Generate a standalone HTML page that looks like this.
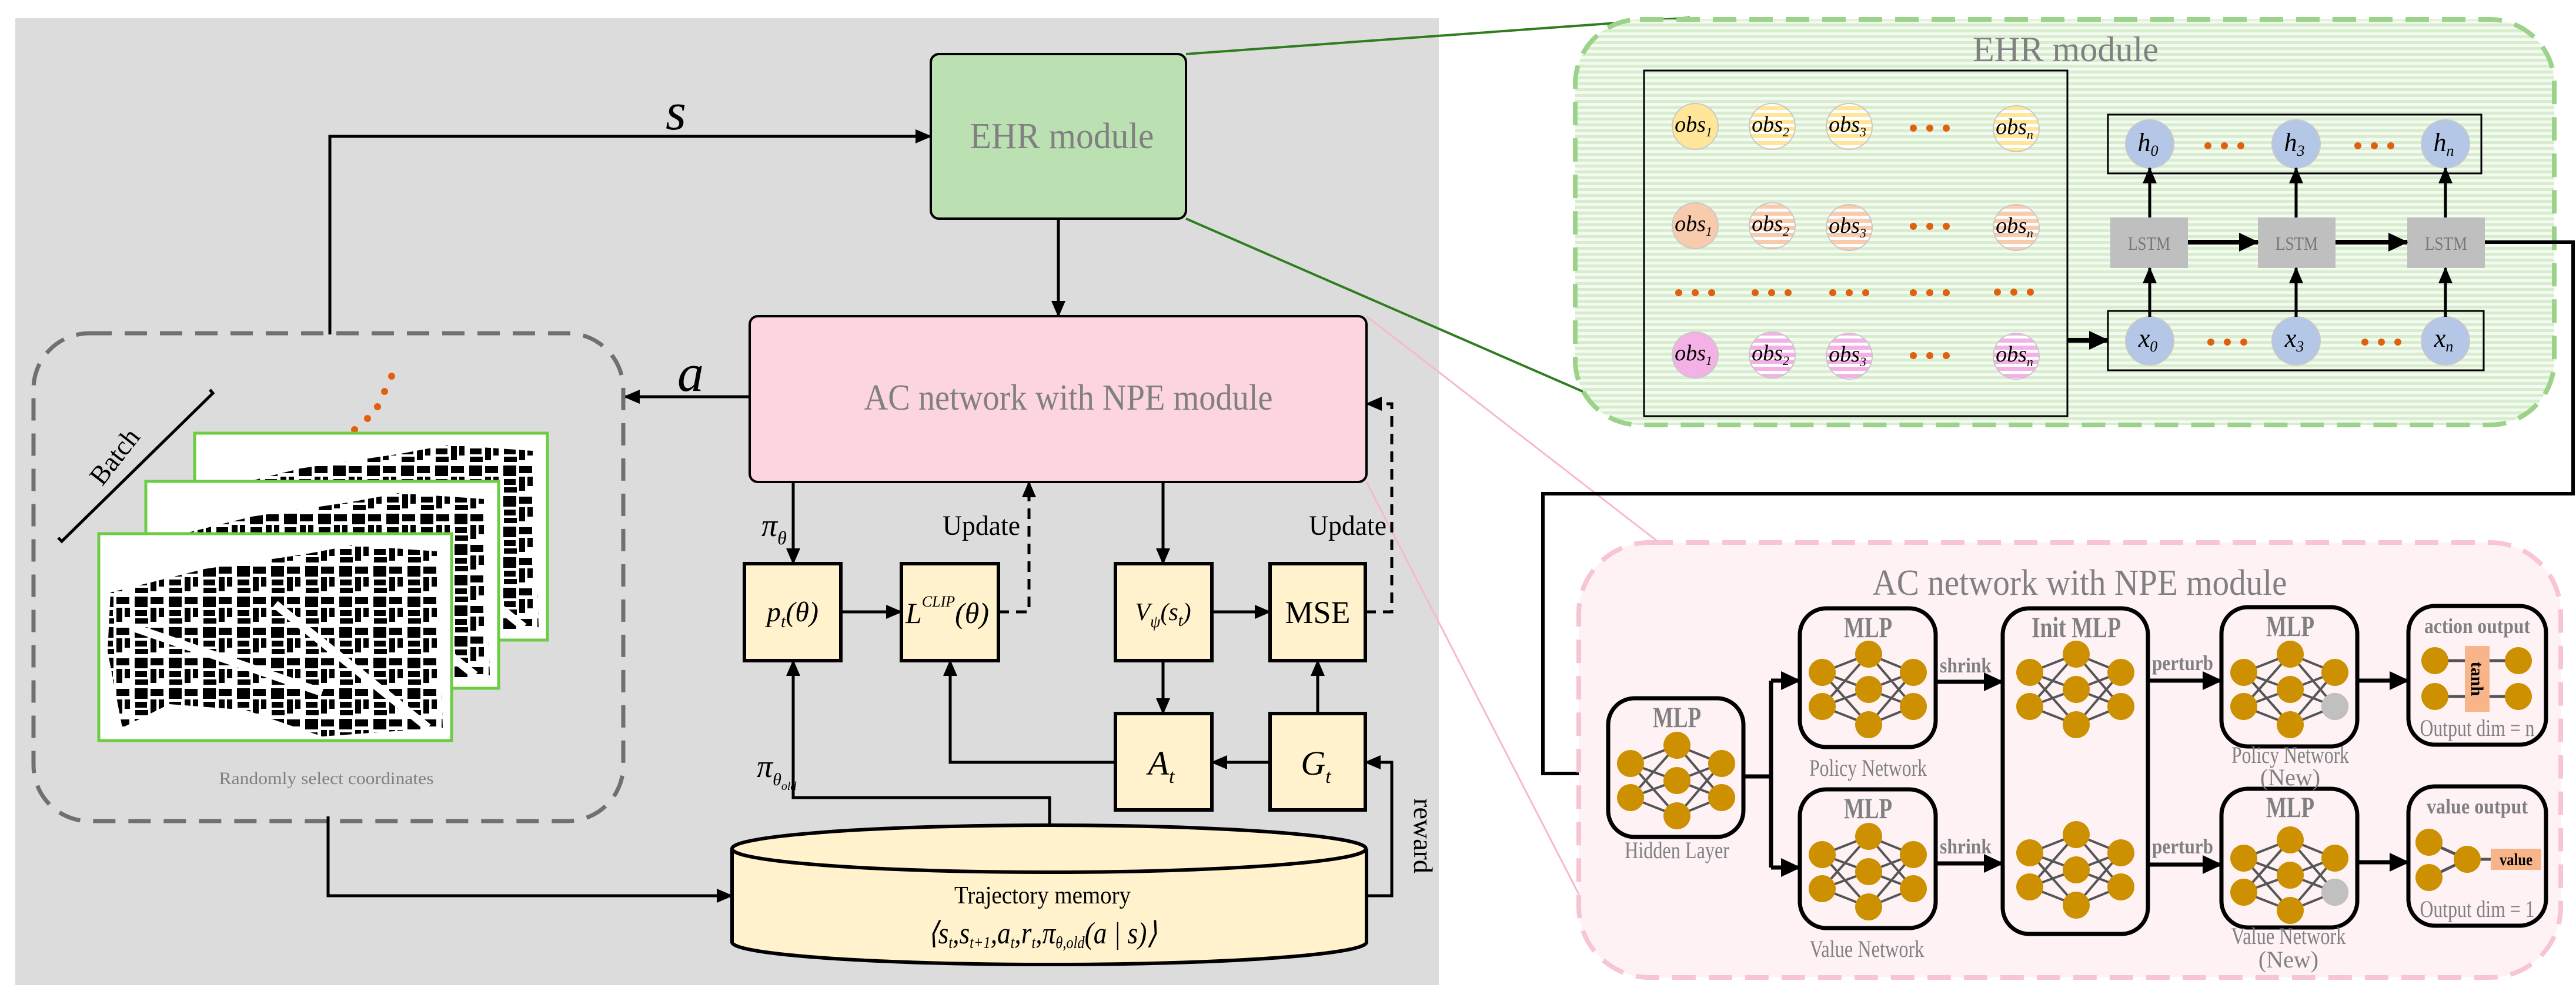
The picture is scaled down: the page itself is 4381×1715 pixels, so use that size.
<!DOCTYPE html>
<html><head><meta charset="utf-8"><style>
html,body{margin:0;padding:0;background:#fff;}
svg{display:block;}
text{font-family:"Liberation Serif",serif;}
</style></head><body>
<svg width="4381" height="1715" viewBox="0 0 4381 1715" xmlns="http://www.w3.org/2000/svg">
<defs>
<marker id="ar" markerWidth="28" markerHeight="24" refX="26" refY="12" orient="auto" markerUnits="userSpaceOnUse"><path d="M0,0 L28,12 L0,24 z" fill="#000"/></marker>
<marker id="arB" markerWidth="34" markerHeight="32" refX="32" refY="16" orient="auto" markerUnits="userSpaceOnUse"><path d="M0,0 L34,16 L0,32 z" fill="#000"/></marker>
<pattern id="grn" width="10" height="10" patternUnits="userSpaceOnUse"><rect width="10" height="10" fill="#f3faf0"/><rect width="10" height="5" fill="#d8ecce"/></pattern>
<pattern id="sy" width="12" height="12" patternUnits="userSpaceOnUse"><rect width="12" height="12" fill="#fff"/><rect width="12" height="7" fill="#ffe699"/></pattern>
<pattern id="ss" width="12" height="12" patternUnits="userSpaceOnUse"><rect width="12" height="12" fill="#fff"/><rect width="12" height="7" fill="#f8cbad"/></pattern>
<pattern id="sp" width="12" height="12" patternUnits="userSpaceOnUse"><rect width="12" height="12" fill="#fff"/><rect width="12" height="7" fill="#f4b1e6"/></pattern>
<pattern id="bld" width="58" height="52" patternUnits="userSpaceOnUse">
<rect x="3" y="3" width="22" height="18" fill="#000"/><rect x="30" y="4" width="22" height="12" fill="#000"/><rect x="30" y="22" width="10" height="24" fill="#000"/><rect x="44" y="22" width="9" height="16" fill="#000"/><rect x="4" y="26" width="20" height="10" fill="#000"/><rect x="4" y="40" width="22" height="9" fill="#000"/></pattern>
<clipPath id="mapclip"><polygon points="20,100 180,60 350,35 430,20 575,30 585,330 380,345 250,300 120,290 40,330 15,200"/></clipPath>
<g id="map"><rect x="0" y="0" width="600" height="352" fill="#fff" stroke="#6ccc44" stroke-width="5"/>
<rect x="0" y="0" width="600" height="352" fill="url(#bld)" clip-path="url(#mapclip)"/>
<path d="M60,160 L380,270 M300,120 L560,330" stroke="#fff" stroke-width="14"/></g>
<g id="net" stroke="#555" stroke-width="4">
<path d="M-79,-29 L0,-60 M-79,-29 L0,0 M-79,-29 L0,60 M-79,29 L0,-60 M-79,29 L0,0 M-79,29 L0,60 M76,-29 L0,-60 M76,-29 L0,0 M76,-29 L0,60 M76,29 L0,-60 M76,29 L0,0 M76,29 L0,60"/>
<g fill="#cc9000" stroke="none"><circle cx="-79" cy="-29" r="23"/><circle cx="-79" cy="29" r="23"/><circle cx="0" cy="-60" r="23"/><circle cx="0" cy="0" r="23"/><circle cx="0" cy="60" r="23"/><circle cx="76" cy="-29" r="23"/><circle cx="76" cy="29" r="23"/></g></g>
</defs>

<rect x="26" y="31" width="2421" height="1645" fill="#dcdcdc"/>

<line x1="2017" y1="92" x2="2874" y2="30" stroke="#2e7d1f" stroke-width="4"/>
<line x1="2017" y1="372" x2="2772" y2="701" stroke="#2e7d1f" stroke-width="4"/>
<line x1="2324" y1="538" x2="2819" y2="921" stroke="#f7b9c9" stroke-width="3"/>
<line x1="2324" y1="820" x2="2705" y2="1560" stroke="#f7b9c9" stroke-width="3"/>

<rect x="1583" y="92" width="434" height="280" rx="14" fill="#bbe0b2" stroke="#000" stroke-width="4"/>
<text x="1806" y="252" font-size="62" fill="#808080" text-anchor="middle" textLength="313" lengthAdjust="spacingAndGlyphs">EHR  module</text>

<path d="M561,569 L561,232 L1583,232" fill="none" stroke="#000" stroke-width="5" marker-end="url(#ar)"/>
<text x="1132" y="220" font-size="90" font-style="italic">s</text>
<line x1="1800" y1="372" x2="1800" y2="538" stroke="#000" stroke-width="5" marker-end="url(#ar)"/>

<rect x="1275" y="538" width="1049" height="282" rx="14" fill="#fcd5df" stroke="#000" stroke-width="4"/>
<text x="1817" y="697" font-size="62" fill="#808080" text-anchor="middle" textLength="695" lengthAdjust="spacingAndGlyphs">AC network with NPE module</text>

<line x1="1275" y1="675" x2="1062" y2="675" stroke="#000" stroke-width="5" marker-end="url(#ar)"/>
<text x="1152" y="665" font-size="90" font-style="italic">a</text>

<rect x="57" y="567" width="1003" height="830" rx="95" fill="none" stroke="#707070" stroke-width="7" stroke-dasharray="38,22"/>
<g fill="#e06010"><circle cx="666" cy="640" r="6"/><circle cx="654" cy="666" r="6"/><circle cx="642" cy="692" r="6"/><circle cx="625" cy="712" r="6"/><circle cx="603" cy="731" r="6"/></g>
<path d="M357,663 L362,669 L105,921 L99,915" fill="none" stroke="#000" stroke-width="5"/>
<text x="199" y="790" font-size="46" transform="rotate(-52 199 780)" text-anchor="middle">Batch</text>
<use href="#map" transform="translate(331,737)"/>
<use href="#map" transform="translate(248,819)"/>
<use href="#map" transform="translate(168,908)"/>
<text x="555" y="1334" font-size="30" fill="#808080" text-anchor="middle" textLength="365" lengthAdjust="spacingAndGlyphs">Randomly select coordinates</text>

<g fill="#fff2cc" stroke="#000" stroke-width="6">
<rect x="1266" y="959" width="164" height="165"/>
<rect x="1533" y="959" width="165" height="165"/>
<rect x="1897" y="959" width="164" height="165"/>
<rect x="2160" y="959" width="162" height="165"/>
<rect x="1897" y="1214" width="164" height="164"/>
<rect x="2160" y="1214" width="162" height="164"/>
</g>
<text x="1348" y="1057" font-size="48" font-style="italic" text-anchor="middle">p<tspan font-size="30" dy="10">t</tspan><tspan dy="-10">(θ)</tspan></text>
<text x="1540" y="1060" font-size="50" font-style="italic">L<tspan font-size="26" dy="-28">CLIP</tspan><tspan dy="28">(θ)</tspan></text>
<text x="1978" y="1055" font-size="42" font-style="italic" text-anchor="middle">V<tspan font-size="28" dy="12">ψ</tspan><tspan dy="-12">(s</tspan><tspan font-size="28" dy="10">t</tspan><tspan dy="-10">)</tspan></text>
<text x="2241" y="1060" font-size="54" text-anchor="middle">MSE</text>
<text x="1975" y="1318" font-size="58" font-style="italic" text-anchor="middle">A<tspan font-size="34" dy="14">t</tspan></text>
<text x="2238" y="1318" font-size="58" font-style="italic" text-anchor="middle">G<tspan font-size="34" dy="14">t</tspan></text>

<g stroke="#000" stroke-width="5" fill="none">
<line x1="1349" y1="820" x2="1349" y2="959" marker-end="url(#ar)"/>
<line x1="1430" y1="1041" x2="1533" y2="1041" marker-end="url(#ar)"/>
<line x1="1978" y1="820" x2="1978" y2="959" marker-end="url(#ar)"/>
<line x1="2061" y1="1041" x2="2160" y2="1041" marker-end="url(#ar)"/>
<line x1="1978" y1="1124" x2="1978" y2="1214" marker-end="url(#ar)"/>
<line x1="2241" y1="1214" x2="2241" y2="1124" marker-end="url(#ar)"/>
<line x1="2160" y1="1297" x2="2061" y2="1297" marker-end="url(#ar)"/>
<path d="M1897,1297 L1616,1297 L1616,1124" marker-end="url(#ar)"/>
<path d="M1785,1404 L1785,1357 L1349,1357 L1349,1124" marker-end="url(#ar)"/>
<path d="M2324,1524 L2367,1524 L2367,1297 L2322,1297" marker-end="url(#ar)"/>
<path d="M558,1389 L558,1524 L1245,1524" marker-end="url(#ar)"/>
<path d="M1698,1041 L1750,1041 L1750,820" stroke-dasharray="18,12" marker-end="url(#ar)"/>
<path d="M2322,1041 L2367,1041 L2367,687 L2324,687" stroke-dasharray="18,12" marker-end="url(#ar)"/>
</g>
<text x="1295" y="912" font-size="54" font-style="italic">π<tspan font-size="32" dy="14">θ</tspan></text>
<text x="1287" y="1322" font-size="54" font-style="italic">π<tspan font-size="30" dy="14">θ</tspan><tspan font-size="20" dy="8">old</tspan></text>
<text x="1669" y="910" font-size="48" text-anchor="middle" textLength="132" lengthAdjust="spacingAndGlyphs">Update</text>
<text x="2292" y="910" font-size="48" text-anchor="middle" textLength="132" lengthAdjust="spacingAndGlyphs">Update</text>
<text x="2405" y="1422" font-size="46" transform="rotate(90 2405 1422)" text-anchor="middle">reward</text>

<path d="M1245,1444 L1245,1603 A539,38 0 0 0 2324,1603 L2324,1444" fill="#fff2cc" stroke="#000" stroke-width="6"/>
<ellipse cx="1784" cy="1444" rx="539" ry="40" fill="#fff2cc" stroke="#000" stroke-width="6"/>
<text x="1773" y="1537" font-size="42" text-anchor="middle" textLength="300" lengthAdjust="spacingAndGlyphs">Trajectory memory</text>
<text x="1773" y="1605" font-size="52" font-style="italic" text-anchor="middle" textLength="390" lengthAdjust="spacingAndGlyphs">⟨s<tspan font-size="28" dy="8">t</tspan><tspan dy="-8">,s</tspan><tspan font-size="28" dy="8">t+1</tspan><tspan dy="-8">,a</tspan><tspan font-size="28" dy="8">t</tspan><tspan dy="-8">,r</tspan><tspan font-size="28" dy="8">t</tspan><tspan dy="-8">,π</tspan><tspan font-size="28" dy="8">θ,old</tspan><tspan dy="-8">(a | s)⟩</tspan></text>

<!-- EHR detail -->
<rect x="2679" y="33" width="1665" height="690" rx="110" fill="url(#grn)" stroke="#9bd38a" stroke-width="8" stroke-dasharray="40,22"/>
<text x="3513" y="104" font-size="60" fill="#808080" text-anchor="middle" textLength="316" lengthAdjust="spacingAndGlyphs">EHR  module</text>
<rect x="2796" y="120" width="720" height="588" fill="none" stroke="#000" stroke-width="3"/>
<g stroke="#c8c8c8" stroke-width="2">
<circle cx="2883" cy="215" r="39" fill="#ffe699"/><circle cx="3014" cy="215" r="39" fill="url(#sy)"/><circle cx="3145" cy="215" r="39" fill="url(#sy)"/><circle cx="3429" cy="219" r="39" fill="url(#sy)"/>
<circle cx="2883" cy="384" r="39" fill="#f8cbad"/><circle cx="3014" cy="384" r="39" fill="url(#ss)"/><circle cx="3145" cy="387" r="39" fill="url(#ss)"/><circle cx="3429" cy="387" r="39" fill="url(#ss)"/>
<circle cx="2883" cy="604" r="39" fill="#f4b1e6"/><circle cx="3014" cy="604" r="39" fill="url(#sp)"/><circle cx="3145" cy="606" r="39" fill="url(#sp)"/><circle cx="3429" cy="606" r="39" fill="url(#sp)"/>
</g>
<g font-size="38" font-style="italic" text-anchor="middle">
<text x="2880" y="224">obs<tspan font-size="22" dy="8">1</tspan></text><text x="3011" y="224">obs<tspan font-size="22" dy="8">2</tspan></text><text x="3142" y="224">obs<tspan font-size="22" dy="8">3</tspan></text><text x="3426" y="228">obs<tspan font-size="22" dy="8">n</tspan></text>
<text x="2880" y="393">obs<tspan font-size="22" dy="8">1</tspan></text><text x="3011" y="393">obs<tspan font-size="22" dy="8">2</tspan></text><text x="3142" y="396">obs<tspan font-size="22" dy="8">3</tspan></text><text x="3426" y="396">obs<tspan font-size="22" dy="8">n</tspan></text>
<text x="2880" y="613">obs<tspan font-size="22" dy="8">1</tspan></text><text x="3011" y="613">obs<tspan font-size="22" dy="8">2</tspan></text><text x="3142" y="615">obs<tspan font-size="22" dy="8">3</tspan></text><text x="3426" y="615">obs<tspan font-size="22" dy="8">n</tspan></text>
</g>
<g fill="#e06010">
<circle cx="3254" cy="218" r="6"/><circle cx="3282" cy="218" r="6"/><circle cx="3310" cy="218" r="6"/>
<circle cx="3254" cy="385" r="6"/><circle cx="3282" cy="385" r="6"/><circle cx="3310" cy="385" r="6"/>
<circle cx="3254" cy="605" r="6"/><circle cx="3282" cy="605" r="6"/><circle cx="3310" cy="605" r="6"/>
<circle cx="2855" cy="498" r="6"/><circle cx="2883" cy="498" r="6"/><circle cx="2911" cy="498" r="6"/>
<circle cx="2985" cy="498" r="6"/><circle cx="3013" cy="498" r="6"/><circle cx="3041" cy="498" r="6"/>
<circle cx="3117" cy="498" r="6"/><circle cx="3145" cy="498" r="6"/><circle cx="3173" cy="498" r="6"/>
<circle cx="3254" cy="498" r="6"/><circle cx="3282" cy="498" r="6"/><circle cx="3310" cy="498" r="6"/>
<circle cx="3397" cy="497" r="6"/><circle cx="3425" cy="497" r="6"/><circle cx="3453" cy="497" r="6"/>
<circle cx="3755" cy="248" r="6"/><circle cx="3783" cy="248" r="6"/><circle cx="3811" cy="248" r="6"/>
<circle cx="4010" cy="248" r="6"/><circle cx="4038" cy="248" r="6"/><circle cx="4066" cy="248" r="6"/>
<circle cx="3760" cy="582" r="6"/><circle cx="3788" cy="582" r="6"/><circle cx="3816" cy="582" r="6"/>
<circle cx="4022" cy="582" r="6"/><circle cx="4050" cy="582" r="6"/><circle cx="4078" cy="582" r="6"/>
</g>
<rect x="3585" y="195" width="635" height="100" fill="none" stroke="#000" stroke-width="3"/>
<rect x="3585" y="529" width="639" height="101" fill="none" stroke="#000" stroke-width="3"/>
<g fill="#b4c7e7" stroke="#c8c8c8" stroke-width="2">
<circle cx="3656" cy="245" r="41"/><circle cx="3905" cy="245" r="41"/><circle cx="4159" cy="245" r="41"/>
<circle cx="3656" cy="580" r="41"/><circle cx="3905" cy="580" r="41"/><circle cx="4159" cy="580" r="41"/>
</g>
<g font-size="44" font-style="italic" text-anchor="middle">
<text x="3653" y="257">h<tspan font-size="26" dy="8">0</tspan></text><text x="3902" y="257">h<tspan font-size="26" dy="8">3</tspan></text><text x="4156" y="257">h<tspan font-size="26" dy="8">n</tspan></text>
<text x="3653" y="590">x<tspan font-size="26" dy="8">0</tspan></text><text x="3902" y="590">x<tspan font-size="26" dy="8">3</tspan></text><text x="4156" y="590">x<tspan font-size="26" dy="8">n</tspan></text>
</g>
<g fill="#bfbfbf"><rect x="3589" y="370" width="132" height="86"/><rect x="3840" y="370" width="132" height="86"/><rect x="4094" y="370" width="132" height="86"/></g>
<g font-size="32" fill="#777" text-anchor="middle" style="font-family:'DejaVu Sans',sans-serif">
<text x="3655" y="425" textLength="72" lengthAdjust="spacingAndGlyphs">LSTM</text><text x="3906" y="425" textLength="72" lengthAdjust="spacingAndGlyphs">LSTM</text><text x="4160" y="425" textLength="72" lengthAdjust="spacingAndGlyphs">LSTM</text></g>
<g stroke="#000" stroke-width="5" fill="none">
<line x1="3656" y1="539" x2="3656" y2="456" marker-end="url(#ar)"/><line x1="3905" y1="539" x2="3905" y2="456" marker-end="url(#ar)"/><line x1="4159" y1="539" x2="4159" y2="456" marker-end="url(#ar)"/>
<line x1="3656" y1="370" x2="3656" y2="286" marker-end="url(#ar)"/><line x1="3905" y1="370" x2="3905" y2="286" marker-end="url(#ar)"/><line x1="4159" y1="370" x2="4159" y2="286" marker-end="url(#ar)"/>
<line x1="3721" y1="412" x2="3840" y2="412" stroke-width="8" marker-end="url(#arB)"/>
<line x1="3972" y1="412" x2="4094" y2="412" stroke-width="8" marker-end="url(#arB)"/>
<line x1="3516" y1="579" x2="3585" y2="579" stroke-width="8" marker-end="url(#arB)"/>
<path d="M4226,412 L4376,412 L4376,840 L2624,840 L2624,1316 L2735,1316" stroke-width="6" marker-end="url(#arB)"/>
</g>

<!-- AC NPE detail -->
<rect x="2685" y="923" width="1670" height="740" rx="120" fill="#fef2f5" stroke="#f8c5d3" stroke-width="8" stroke-dasharray="40,22"/>
<text x="3537" y="1012" font-size="62" fill="#808080" text-anchor="middle" textLength="705" lengthAdjust="spacingAndGlyphs">AC network with NPE module</text>
<g fill="none" stroke="#000" stroke-width="7">
<rect x="2735" y="1188" width="230" height="236" rx="45"/>
<rect x="3061" y="1035" width="231" height="236" rx="45"/>
<rect x="3061" y="1343" width="231" height="236" rx="45"/>
<rect x="3406" y="1035" width="247" height="554" rx="45"/>
<rect x="3778" y="1033" width="231" height="237" rx="45"/>
<rect x="3778" y="1342" width="231" height="236" rx="45"/>
<rect x="4096" y="1031" width="234" height="236" rx="45"/>
<rect x="4096" y="1338" width="234" height="237" rx="45"/>
</g>
<g font-size="50" font-weight="bold" fill="#808080" text-anchor="middle">
<text x="2852" y="1237" textLength="82" lengthAdjust="spacingAndGlyphs">MLP</text><text x="3177" y="1084" textLength="82" lengthAdjust="spacingAndGlyphs">MLP</text><text x="3177" y="1392" textLength="82" lengthAdjust="spacingAndGlyphs">MLP</text><text x="3531" y="1084" textLength="152" lengthAdjust="spacingAndGlyphs">Init MLP</text><text x="3895" y="1082" textLength="82" lengthAdjust="spacingAndGlyphs">MLP</text><text x="3895" y="1390" textLength="82" lengthAdjust="spacingAndGlyphs">MLP</text>
</g>
<use href="#net" transform="translate(2852,1328)"/>
<use href="#net" transform="translate(3178,1173)"/>
<use href="#net" transform="translate(3178,1483)"/>
<use href="#net" transform="translate(3531,1173)"/>
<use href="#net" transform="translate(3531,1480)"/>
<use href="#net" transform="translate(3895,1173)"/>
<use href="#net" transform="translate(3895,1489)"/>
<circle cx="3971" cy="1202" r="23" fill="#c0c0c0"/>
<circle cx="3971" cy="1518" r="23" fill="#c0c0c0"/>
<g stroke="#555" stroke-width="5"><line x1="4141" y1="1124" x2="4283" y2="1124"/><line x1="4141" y1="1185" x2="4283" y2="1185"/>
<line x1="4131" y1="1433" x2="4196" y2="1462"/><line x1="4131" y1="1493" x2="4196" y2="1462"/><line x1="4196" y1="1462" x2="4240" y2="1462"/></g>
<rect x="4192" y="1099" width="42" height="112" fill="#f8b58a"/>
<g fill="#cc9000"><circle cx="4141" cy="1124" r="23"/><circle cx="4141" cy="1185" r="23"/><circle cx="4283" cy="1124" r="23"/><circle cx="4283" cy="1185" r="23"/>
<circle cx="4131" cy="1433" r="23"/><circle cx="4131" cy="1493" r="23"/><circle cx="4196" cy="1462" r="23"/></g>
<text x="4213" y="1155" font-size="30" font-weight="bold" text-anchor="middle" transform="rotate(90 4213 1155)" dy="10">tanh</text>
<rect x="4236" y="1444" width="86" height="36" fill="#f8b58a"/>
<text x="4279" y="1472" font-size="28" font-weight="bold" text-anchor="middle" textLength="56" lengthAdjust="spacingAndGlyphs">value</text>
<g font-size="36" font-weight="bold" fill="#808080" text-anchor="middle">
<text x="4213" y="1077" textLength="180" lengthAdjust="spacingAndGlyphs">action output</text><text x="4213" y="1384" textLength="172" lengthAdjust="spacingAndGlyphs">value output</text></g>
<g font-size="40" fill="#808080" text-anchor="middle">
<text x="4213" y="1252" textLength="195" lengthAdjust="spacingAndGlyphs">Output dim = n</text><text x="4213" y="1560" textLength="195" lengthAdjust="spacingAndGlyphs">Output dim = 1</text>
<text x="2852" y="1460" textLength="178" lengthAdjust="spacingAndGlyphs">Hidden Layer</text>
<text x="3177" y="1320" textLength="200" lengthAdjust="spacingAndGlyphs">Policy Network</text>
<text x="3175" y="1628" textLength="195" lengthAdjust="spacingAndGlyphs">Value Network</text>
<text x="3895" y="1298" textLength="200" lengthAdjust="spacingAndGlyphs">Policy Network</text><text x="3895" y="1336">(New)</text>
<text x="3892" y="1606" textLength="195" lengthAdjust="spacingAndGlyphs">Value Network</text><text x="3892" y="1646">(New)</text>
</g>
<g stroke="#000" stroke-width="7" fill="none">
<path d="M2965,1321 L3012,1321"/><path d="M3012,1158 L3012,1476"/>
<line x1="3012" y1="1158" x2="3061" y2="1158" marker-end="url(#arB)"/>
<line x1="3012" y1="1476" x2="3061" y2="1476" marker-end="url(#arB)"/>
<line x1="3292" y1="1160" x2="3406" y2="1160" marker-end="url(#arB)"/>
<line x1="3292" y1="1469" x2="3406" y2="1469" marker-end="url(#arB)"/>
<line x1="3653" y1="1158" x2="3778" y2="1158" marker-end="url(#arB)"/>
<line x1="3653" y1="1471" x2="3778" y2="1471" marker-end="url(#arB)"/>
<line x1="4009" y1="1158" x2="4096" y2="1158" marker-end="url(#arB)"/>
<line x1="4009" y1="1467" x2="4096" y2="1467" marker-end="url(#arB)"/>
</g>
<g font-size="36" font-weight="bold" fill="#808080" text-anchor="middle">
<text x="3343" y="1144" textLength="88" lengthAdjust="spacingAndGlyphs">shrink</text><text x="3343" y="1452" textLength="88" lengthAdjust="spacingAndGlyphs">shrink</text>
<text x="3712" y="1140" textLength="104" lengthAdjust="spacingAndGlyphs">perturb</text><text x="3712" y="1452" textLength="104" lengthAdjust="spacingAndGlyphs">perturb</text></g>
</svg>
</body></html>
